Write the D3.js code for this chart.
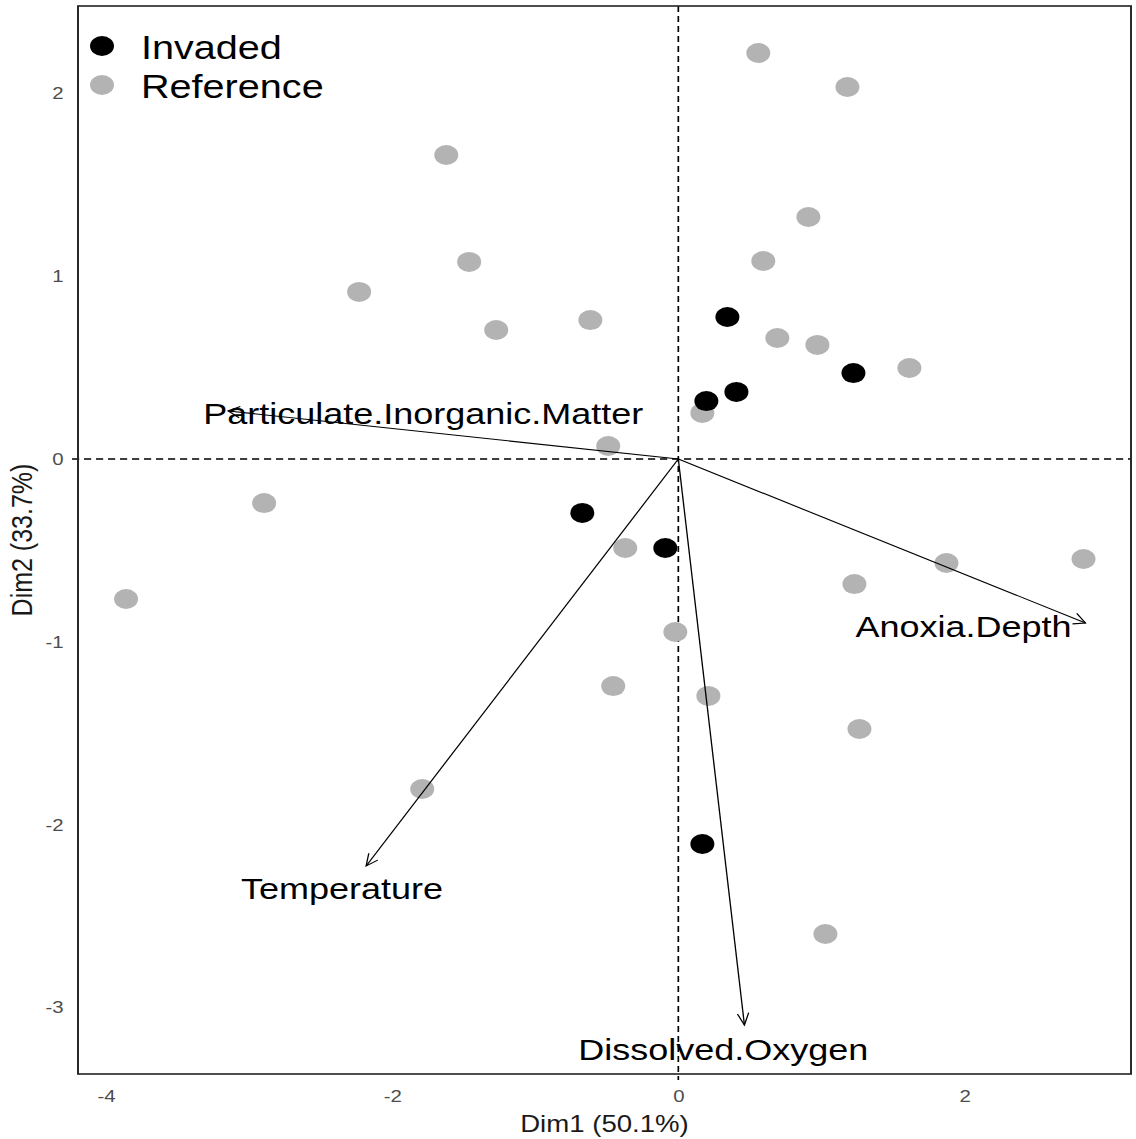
<!DOCTYPE html>
<html>
<head>
<meta charset="utf-8">
<script src="https://cdn.jsdelivr.net/npm/d3@7"></script>
<style>
  html, body { margin: 0; padding: 0; background: #fff; }
  svg { display: block; }
  text { font-family: Arial, "Liberation Sans", sans-serif; }
</style>
</head>
<body>
<div id="chart"></div>
<script>
// PCA biplot of sites (individuals) with variable loading arrows.

// Individuals: Dim1 / Dim2 coordinates
const referenceX = [0.559, 1.182, -1.622, 0.909, -1.462, 0.594, -2.231, -0.615, -1.273, 0.692, 0.972, 1.615, 0.168,
                    -0.490, -2.895, -0.371, 1.874, 2.832, -3.860, 1.231, -0.021, -0.455, 0.210, 1.266, -1.790, 1.028];
const referenceY = [2.221, 2.035, 1.663, 1.324, 1.078, 1.083, 0.914, 0.760, 0.706, 0.662, 0.624, 0.498, 0.252,
                    0.071, -0.241, -0.487, -0.569, -0.547, -0.766, -0.684, -0.946, -1.242, -1.296, -1.477, -1.805, -2.598];
const invadedX = [0.343, 1.224, 0.406, 0.196, -0.671, -0.091, 0.168];
const invadedY = [0.777, 0.470, 0.367, 0.317, -0.295, -0.487, -2.106];

// Variables: arrow tips and label anchors
const varNames = ["Particulate.Inorganic.Matter", "Anoxia.Depth", "Temperature", "Dissolved.Oxygen"];
const varX = [-3.147, 2.846, -2.182, 0.462];
const varY = [0.263, -0.897, -2.226, -3.096];
const varLabelX = [-1.783, 1.993, -2.350, 0.315];
const varLabelY = [0.246, -0.919, -2.352, -3.228];

const groups = ["Invaded", "Reference"];
const groupColors = ["#000000", "#b3b3b3"];

const xTicks = [-4, -2, 0, 2];
const yTicks = [-3, -2, -1, 0, 1, 2];
const xTitle = "Dim1 (50.1%)";
const yTitle = "Dim2 (33.7%)";

// ---- layout ----
const W = 1136, H = 1139;
const sx = 1.2;                 // horizontal stretch of the drawing
const panel = { left: 78 / sx, right: 1131 / sx, top: 6, bottom: 1074 };

const x = d3.scaleLinear().domain([-4.196, 3.164]).range([panel.left, panel.right]);
const y = d3.scaleLinear().domain([-3.364, 2.478]).range([panel.bottom, panel.top]);

const svg = d3.select("#chart").append("svg").attr("width", W).attr("height", H);
const root = svg.append("g").attr("transform", `scale(${sx},1)`);

// zero reference lines
root.append("line")
  .attr("x1", x(0)).attr("x2", x(0))
  .attr("y1", panel.top).attr("y2", panel.bottom + 6)
  .attr("stroke", "#000").attr("stroke-width", 1.4).attr("stroke-dasharray", "6,4");
root.append("line")
  .attr("x1", panel.left - 5).attr("x2", panel.right)
  .attr("y1", y(0)).attr("y2", y(0))
  .attr("stroke", "#000").attr("stroke-width", 1.4).attr("stroke-dasharray", "6,4");

// points
const refPts = referenceX.map((v, i) => ({ x: v, y: referenceY[i] }));
const invPts = invadedX.map((v, i) => ({ x: v, y: invadedY[i] }));

root.append("g").selectAll("circle").data(refPts).join("circle")
  .attr("cx", d => x(d.x)).attr("cy", d => y(d.y)).attr("r", 10)
  .attr("fill", groupColors[1]);
root.append("g").selectAll("circle").data(invPts).join("circle")
  .attr("cx", d => x(d.x)).attr("cy", d => y(d.y)).attr("r", 10)
  .attr("fill", groupColors[0]);

// variable arrows
const vars = varNames.map((n, i) => ({ name: n, x: varX[i], y: varY[i], lx: varLabelX[i], ly: varLabelY[i] }));
const arrows = root.append("g");
vars.forEach(v => {
  const x0 = x(0), y0 = y(0);
  const x1 = x(v.x), y1 = y(v.y);
  arrows.append("line")
    .attr("x1", x0).attr("y1", y0).attr("x2", x1).attr("y2", y1)
    .attr("stroke", "#000").attr("stroke-width", 1.1);
  // open arrow head, built in screen space then mapped back into the stretched group
  const dxs = (x1 - x0) * sx, dys = (y1 - y0);
  const ang = Math.atan2(dys, dxs);
  const len = 13, spread = Math.PI / 7;
  const pts = [ang + Math.PI - spread, ang + Math.PI + spread].map(a => [x1 + len * Math.cos(a) / sx, y1 + len * Math.sin(a)]);
  arrows.append("path")
    .attr("d", `M${pts[0][0]},${pts[0][1]}L${x1},${y1}L${pts[1][0]},${pts[1][1]}`)
    .attr("fill", "none").attr("stroke", "#000").attr("stroke-width", 1.1);
});

// variable labels
root.append("g").selectAll("text").data(vars).join("text")
  .attr("x", d => x(d.lx)).attr("y", d => y(d.ly))
  .attr("text-anchor", "middle").attr("dominant-baseline", "central")
  .attr("font-size", 30).attr("fill", "#000")
  .text(d => d.name);

// panel border
root.append("rect")
  .attr("x", panel.left).attr("y", panel.top)
  .attr("width", panel.right - panel.left).attr("height", panel.bottom - panel.top)
  .attr("fill", "none").attr("stroke", "#222").attr("stroke-width", 1.6);

// axes (plain hyphen minus in tick labels)
const fmt = d => String(d);
const xAxis = root.append("g").attr("transform", `translate(0,${panel.bottom})`)
  .call(d3.axisBottom(x).tickValues(xTicks).tickSize(0).tickPadding(16).tickFormat(fmt));
xAxis.select(".domain").remove();
xAxis.selectAll("text").attr("font-size", 17).attr("fill", "#4d4d4d").attr("font-family", null);

const yAxis = root.append("g").attr("transform", `translate(${panel.left},0)`)
  .call(d3.axisLeft(y).tickValues(yTicks).tickSize(0).tickPadding(12).tickFormat(fmt));
yAxis.select(".domain").remove();
yAxis.selectAll("text").attr("font-size", 17).attr("fill", "#4d4d4d").attr("font-family", null);

// axis titles
root.append("text")
  .attr("x", (panel.left + panel.right) / 2).attr("y", 1124)
  .attr("text-anchor", "middle").attr("dominant-baseline", "central")
  .attr("font-size", 23).attr("fill", "#1a1a1a").text(xTitle);
root.append("text")
  .attr("transform", `translate(${22 / sx},${(panel.top + panel.bottom) / 2}) rotate(-90)`)
  .attr("text-anchor", "middle").attr("dominant-baseline", "central")
  .attr("font-size", 25).attr("fill", "#1a1a1a").text(yTitle);

// legend
const legend = root.append("g");
groups.forEach((g, i) => {
  const cy = 46 + i * 39;
  legend.append("circle").attr("cx", 102 / sx).attr("cy", cy).attr("r", 10).attr("fill", groupColors[i]);
  legend.append("text").attr("x", 141 / sx).attr("y", cy + 2)
    .attr("dominant-baseline", "central").attr("font-size", 33).attr("fill", "#000").text(g);
});
</script>
</body>
</html>
